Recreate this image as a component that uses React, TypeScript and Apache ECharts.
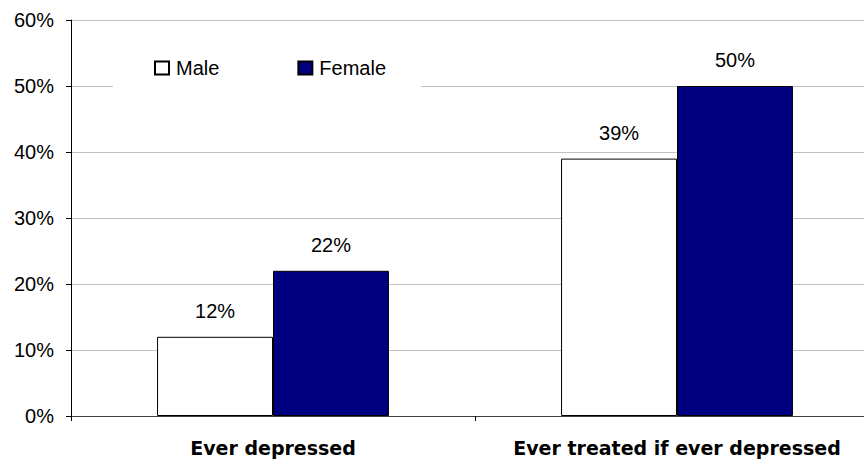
import React, { useEffect, useRef } from "react";
import * as echarts from "echarts";

const categories = ["Ever depressed", "Ever treated if ever depressed"];
const maleValues = [12, 39];
const femaleValues = [22, 50];
const seriesNames = ["Male", "Female"];
const yTicks = [0, 10, 20, 30, 40, 50, 60];

export default function App() {
  const ref = useRef<HTMLDivElement>(null);
  useEffect(() => {
    if (!ref.current) return;
    const chart = echarts.init(ref.current, null, { renderer: "svg" });
    const font = "'Liberation Sans', Arial, sans-serif";
    const labelStyle = {
      show: true,
      position: "top" as const,
      distance: 16,
      formatter: "{c}%",
      color: "#000",
      fontSize: 20,
      fontFamily: font,
    };
    chart.setOption({
      animation: false,
      backgroundColor: "#fff",
      grid: {
        left: 71,
        top: 20,
        width: 808,
        height: 396,
        containLabel: false,
        outerBoundsMode: "none",
      },
      legend: {
        data: seriesNames,
        left: 113,
        top: 46,
        padding: [12, 35, 16, 41],
        backgroundColor: "#fff",
        itemGap: 78,
        itemWidth: 14,
        itemHeight: 13,
        icon: "rect",
        textStyle: { fontSize: 20, fontFamily: font, color: "#000", padding: [0, 0, 0, 2] },
      },
      xAxis: {
        type: "category",
        data: categories,
        axisLine: { lineStyle: { color: "#404040", width: 1 } },
        axisTick: { show: true, length: 5, alignWithLabel: false, lineStyle: { color: "#000" } },
        axisLabel: {
          interval: 0,
          hideOverlap: false,
          margin: 22,
          color: "#000",
          fontSize: 19,
          fontWeight: "bold",
          fontFamily: "'DejaVu Sans', sans-serif",
        },
        splitLine: { show: false },
      },
      yAxis: {
        type: "value",
        min: yTicks[0],
        max: yTicks[yTicks.length - 1],
        interval: 10,
        axisLine: { show: true, lineStyle: { color: "#000", width: 1 } },
        axisTick: { show: true, length: 5, lineStyle: { color: "#000" } },
        axisLabel: { formatter: "{value}%", color: "#000", fontSize: 20, fontFamily: font, margin: 17 },
        splitLine: { show: true, lineStyle: { color: "#c0c0c0", width: 1 } },
      },
      series: [
        {
          name: seriesNames[0],
          type: "bar",
          data: maleValues,
          barGap: "0%",
          barCategoryGap: "42.6%",
          itemStyle: { color: "#ffffff", borderColor: "#000", borderWidth: 1 },
          label: labelStyle,
        },
        {
          name: seriesNames[1],
          type: "bar",
          data: femaleValues,
          barGap: "0%",
          barCategoryGap: "42.6%",
          itemStyle: { color: "#000080", borderColor: "#000", borderWidth: 1 },
          label: labelStyle,
        },
      ],
    });
    return () => chart.dispose();
  }, []);
  return (
    <div
      ref={ref}
      style={{ position: "fixed", left: 0, top: 0, width: 864, height: 459 }}
    />
  );
}
